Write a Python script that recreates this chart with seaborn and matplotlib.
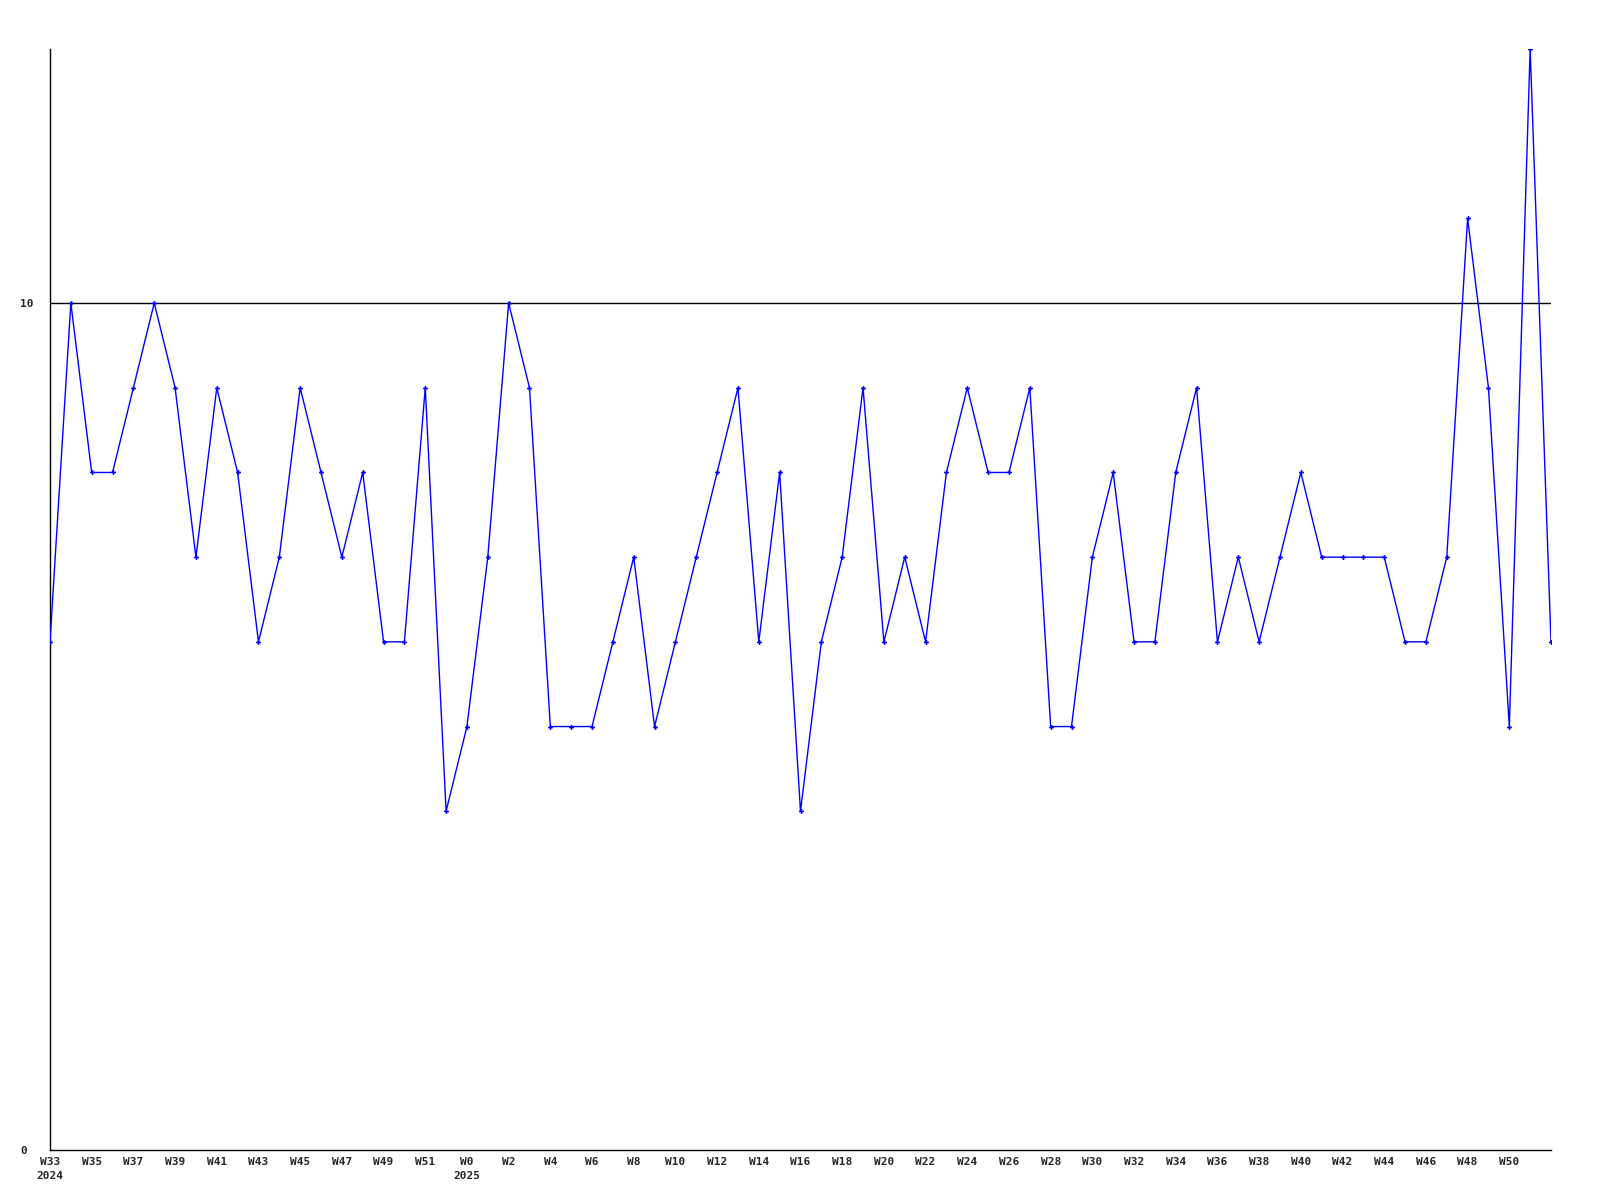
import matplotlib
matplotlib.use("Agg")
import matplotlib.pyplot as plt
import seaborn as sns
import pandas as pd

years = [2024] * 20 + [2025] * 53
weeks = list(range(33, 53)) + list(range(0, 53))
values = [6, 10, 8, 8, 9, 10, 9, 7, 9, 8,
          6, 7, 9, 8, 7, 8, 6, 6, 9, 4,
          5, 7, 10, 9, 5, 5, 5, 6, 7, 5,
          6, 7, 8, 9, 6, 8, 4, 6, 7, 9,
          6, 7, 6, 8, 9, 8, 8, 9, 5, 5,
          7, 8, 6, 6, 8, 9, 6, 7, 6, 7,
          8, 7, 7, 7, 7, 6, 6, 7, 11, 9,
          5, 13, 6]

df = pd.DataFrame({"idx": range(len(values)), "week": weeks, "year": years, "value": values})

sns.set_style("white")
plt.rcParams['font.family'] = ['DejaVu Sans Mono']

fig = plt.figure(figsize=(16, 12), dpi=100)
ax = fig.add_axes([50 / 1600, 1 - 1150 / 1200, (1551 - 50) / 1600, (1150 - 49) / 1200])

ax.axhline(10, color="black", lw=1, zorder=1)
sns.lineplot(data=df, x="idx", y="value", color="#0000ff", lw=1, marker="P",
             markersize=3.5, markeredgewidth=0, ax=ax, zorder=3)

ax.set_xlim(0, len(values) - 1)
ax.set_ylim(0, 13)

tick_idx = list(range(0, len(values) - 1, 2))
labels = []
prev_year = None
for i in tick_idx:
    lab = f"W{weeks[i]}"
    if years[i] != prev_year:
        lab += f"\n{years[i]}"
        prev_year = years[i]
    labels.append(lab)
ax.set_xticks(tick_idx)
ax.set_xticklabels(labels, fontsize=8, fontweight="bold", linespacing=1.5)
for t in ax.get_xticklabels():
    t.set_verticalalignment("top")
ax.set_yticks([0, 10])
ax.set_yticklabels(["0", "10"], fontsize=8, fontweight="bold")
ax.tick_params(axis="x", length=0, pad=5)
ax.tick_params(axis="y", length=0, pad=21.6)
for t in ax.get_yticklabels():
    t.set_horizontalalignment("left")

ax.set_xlabel("")
ax.set_ylabel("")
for s in ["top", "right"]:
    ax.spines[s].set_visible(False)
for s in ["left", "bottom"]:
    ax.spines[s].set_color("black")
    ax.spines[s].set_linewidth(1)

fig.savefig("out.png", dpi=100, facecolor="white")
